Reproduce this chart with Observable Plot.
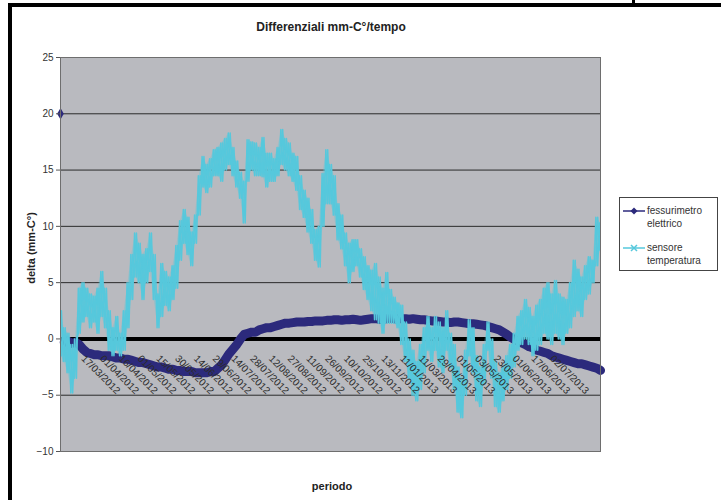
<!DOCTYPE html>
<html>
<head>
<meta charset="utf-8">
<script src="https://cdn.jsdelivr.net/npm/d3@7"></script>
<script src="https://cdn.jsdelivr.net/npm/@observablehq/plot@0.6"></script>
<style>
  body { margin: 0; background: #fff; }
  #wrap { position: relative; width: 721px; height: 500px; overflow: hidden; background: #fff;
          font-family: "Liberation Sans", Arial, sans-serif; color: #222; }
  #chart { position: absolute; left: 0; top: 0; }
  .abs { position: absolute; white-space: nowrap; }
  .bold { font-weight: bold; }
</style>
</head>
<body>
<div id="wrap">
  <div id="chart"></div>
  <div class="abs bold" id="title" style="left:331px;top:27px;transform:translate(-50%,-50%);font-size:12px;"></div>
  <div class="abs bold" id="ylab" style="left:31px;top:248px;transform:translate(-50%,-50%) rotate(-90deg);font-size:11px;"></div>
  <div class="abs bold" id="xlab" style="left:332px;top:486px;transform:translate(-50%,-50%);font-size:11px;"></div>
  <div id="legend" class="abs" style="left:619px;top:197px;width:97px;height:72px;border:1px solid #444;background:#fff;"></div>
  <div class="abs" style="left:8px;top:3px;width:713px;height:4px;background:#000;"></div>
  <div class="abs" style="left:8px;top:3px;width:4px;height:497px;background:#000;"></div>
  <div class="abs" style="left:632px;top:0px;width:3px;height:4px;background:#000;"></div>
</div>
<script>
const titleText = "Differenziali mm-C°/tempo";
const yLabel = "delta (mm-C°)";
const xLabel = "periodo";
const seriesNames = ["fessurimetro elettrico", "sensore temperatura"];
const yTicks = [-10, -5, 0, 5, 10, 15, 20, 25];

const dateLabels = ["17/03/2012","01/04/2012","16/04/2012","01/05/2012","15/05/2012","30/05/2012",
  "14/06/2012","29/06/2012","14/07/2012","28/07/2012","12/08/2012","27/08/2012","11/09/2012",
  "26/09/2012","10/10/2012","25/10/2012","13/11/2012","11/01/2013","11/03/2013","29/04/2013",
  "01/05/2013","03/05/2013","23/05/2013","01/06/2013","17/06/2013","02/07/2013"];

// fessurimetro elettrico (first reading is an isolated outlier)
const fessurimetro = [
  20, -0.3, -0.2, -0.4, -0.3, -0.5, -0.9, -1.2, -1.3, -1.4,
  -1.4, -1.5, -1.5, -1.5, -1.6, -1.7, -1.7, -1.8, -1.8, -1.9,
  -2.0, -2.1, -2.1, -2.2, -2.3, -2.4, -2.5, -2.5, -2.6, -2.7,
  -2.7, -2.8, -2.8, -2.9, -2.9, -2.9, -3.0, -3.0, -3.0, -3.0,
  -2.9, -2.9, -2.6, -2.3, -1.8, -1.3, -0.9, -0.5, 0.0, 0.4,
  0.5, 0.6, 0.6, 0.8, 0.9, 1.0, 1.0, 1.1, 1.2, 1.3,
  1.4, 1.4, 1.45, 1.5, 1.5, 1.5, 1.55, 1.55, 1.6, 1.6,
  1.6, 1.65, 1.65, 1.7, 1.7, 1.65, 1.7, 1.7, 1.75, 1.7,
  1.65, 1.7, 1.75, 1.8, 1.8, 1.75, 1.8, 1.8, 1.85, 1.8,
  1.8, 1.8, 1.8, 1.75, 1.8, 1.75, 1.7, 1.7, 1.65, 1.6,
  1.6, 1.55, 1.5, 1.5, 1.45, 1.5, 1.5, 1.45, 1.4, 1.35,
  1.35, 1.3, 1.25, 1.2, 1.1, 1.0, 0.9, 0.8, 0.6, 0.4,
  0.15, -0.05, -0.2, -0.35, -0.5, -0.7, -0.8, -1.0, -1.1, -1.2,
  -1.3, -1.5, -1.6, -1.7, -1.8, -1.9, -2.0, -2.1, -2.2, -2.2,
  -2.3, -2.4, -2.5, -2.6, -2.8
];

// sensore temperatura: low and high readings per category step
const sensoreLo = [
  -1.5, -2.0, -3.0, -4.8, -3.5, 0.5, 1.5, 2.0, 1.0, 1.5,
  0.5, 2.0, 1.0, -1.0, -1.5, -1.0, -1.5, -1.0, 1.0, 3.5,
  5.5, 5.0, 3.5, 5.0, 6.0, 3.5, 1.0, 2.0, 3.0, 2.5,
  3.5, 4.5, 7.0, 8.5, 7.5, 6.5, 8.5, 11.0, 13.5, 13.0,
  13.5, 14.5, 14.5, 14.0, 15.0, 15.5, 14.5, 13.5, 12.5, 10.3,
  14.0, 15.0, 14.5, 14.5, 14.4, 13.5, 14.0, 14.0, 14.5, 15.5,
  15.0, 14.5, 14.0, 13.2, 11.5, 10.8, 9.5, 8.5, 7.0, 6.4,
  10.0, 12.0, 12.0, 11.0, 8.8, 8.0, 6.5, 5.0, 6.0, 6.5,
  5.5, 4.4, 3.5, 2.5, 1.7, 1.4, 0.5, 1.4, 1.4, 1.4,
  1.0, -0.5, -2.0, -3.5, -5.0, -5.5, -4.5, -3.0, -1.0, -2.0,
  -1.0, -2.5, -3.0, -1.0, -2.5, -4.5, -6.5, -7.0, -5.0, -1.5,
  -3.0, -5.5, -6.0, -4.0, -1.0, -3.5, -6.0, -6.5, -5.5, -4.5,
  -3.5, -2.5, -1.0, -0.5, 0.0, -0.5, -1.5, -1.0, -0.5, 0.5,
  0.0, -0.5, 0.5, 0.0, -0.5, 0.5, 1.0, 2.0, 2.5, 2.0,
  3.5, 4.0, 5.0, 6.5, 7.9
];
const sensoreHi = [
  2.5, 1.0, 0.5, -0.5, 0.0, 4.5, 5.0, 4.5, 4.0, 3.8,
  4.5, 6.0, 4.5, 2.5, 1.0, 2.0, 0.5, 2.5, 5.0, 7.5,
  9.4, 8.5, 7.5, 8.0, 9.4, 7.5, 4.0, 6.7, 6.0, 5.5,
  6.5, 8.3, 10.5, 11.5, 10.8, 9.5, 11.0, 14.5, 16.2, 15.5,
  16.0, 16.8, 17.0, 17.4, 17.8, 18.3, 17.0, 15.8, 14.8, 14.0,
  17.7, 17.5, 17.4, 17.0, 17.9, 16.5, 16.5, 16.0, 17.0, 18.6,
  17.8, 17.4, 16.5, 16.2, 14.5, 13.2, 12.5, 11.5, 9.7, 10.0,
  14.7, 16.8, 15.5, 14.5, 12.0, 11.0, 9.4, 8.5, 8.8, 8.8,
  8.0, 7.3, 6.5, 6.1, 6.7, 5.5, 4.5, 5.9, 4.4, 3.7,
  3.2, 3.0, 1.5, 0.0, -1.0, -2.0, -0.5, 1.0, 2.0, 1.0,
  2.0, 1.5, 1.0, 2.5, 0.5, -0.5, -2.5, -3.5, -1.0, 1.7,
  1.0, -1.5, -2.5, -0.5, 1.5, 0.0, -2.0, -3.0, -2.5, -1.5,
  -0.5, 0.5, 2.0, 2.5, 3.5, 2.8, 2.0, 3.0, 3.5, 4.5,
  5.0, 4.0, 5.2, 4.0, 3.7, 3.5, 5.0, 7.0, 6.2, 5.5,
  6.5, 7.3, 7.0, 10.8, 10.3
];

const navy = "#2c2a7c";
const cyan = "#56c8dc";
const plotBg = "#b9babf";

const N = fessurimetro.length;
const idx = d3.range(N);
const labelStart = 6, labelStep = 5;
const labelData = dateLabels.map((t, j) => ({t, i: labelStart + labelStep * j}));

// two crossing traces through each step's high and low reading
const zig = idx.flatMap(i => [{x: i - 0.25, y: sensoreHi[i]}, {x: i + 0.25, y: sensoreLo[i]}]);
const zag = idx.flatMap(i => [{x: i - 0.25, y: sensoreLo[i]}, {x: i + 0.25, y: sensoreHi[i]}]);

const chart = Plot.plot({
  width: 721,
  height: 500,
  marginLeft: 60,
  marginRight: 121,
  marginTop: 57,
  marginBottom: 49,
  style: {fontFamily: '"Liberation Sans", Arial, sans-serif', fontSize: "10px", color: "#333", background: "transparent"},
  x: {domain: [0, N - 1], axis: null},
  y: {domain: [-10, 25], axis: null},
  marks: [
    Plot.frame({fill: plotBg}),
    Plot.ruleY(yTicks.filter(v => v !== 0 && v !== -10 && v !== 25), {stroke: "#2b2b2b", strokeWidth: 1}),
    Plot.ruleY([0], {stroke: "#000", strokeWidth: 4}),
    Plot.areaY(idx, {x: i => i, y1: i => sensoreLo[i], y2: i => sensoreHi[i], fill: cyan, fillOpacity: 0.35, clip: true}),
    Plot.line(idx.slice(1), {x: i => i, y: i => fessurimetro[i], stroke: navy, strokeWidth: 9,
      strokeLinejoin: "round", strokeLinecap: "round"}),
    Plot.dot([0], {x: i => i, y: i => fessurimetro[i], symbol: "diamond", r: 3.5, fill: navy}),
    Plot.line(zig, {x: "x", y: "y", stroke: cyan, strokeWidth: 1.5, clip: true}),
    Plot.line(zag, {x: "x", y: "y", stroke: cyan, strokeWidth: 1.5, clip: true}),
    Plot.frame({stroke: "#6e6e6e"}),
    Plot.axisY({ticks: yTicks, tickSize: 4, tickPadding: 3, fontSize: 10, label: null, stroke: "#555"}),
    Plot.text(labelData, {x: "i", y: () => 0, dy: 18, text: "t", rotate: 45, textAnchor: "start",
      fontSize: 10, fill: "#2b2b2b"})
  ]
});
document.getElementById("chart").appendChild(chart);

document.getElementById("title").textContent = titleText;
document.getElementById("ylab").textContent = yLabel;
document.getElementById("xlab").textContent = xLabel;

const legend = document.getElementById("legend");
const items = [
  {name: seriesNames[0], color: navy, top: 6, marker: "diamond"},
  {name: seriesNames[1], color: cyan, top: 43, marker: "x"}
];
for (const it of items) {
  const icon = document.createElementNS("http://www.w3.org/2000/svg", "svg");
  icon.setAttribute("width", 24); icon.setAttribute("height", 10);
  icon.style.position = "absolute"; icon.style.left = "2px"; icon.style.top = (it.top + 2) + "px";
  let inner = `<line x1="1" y1="5" x2="23" y2="5" stroke="${it.color}" stroke-width="1.5"/>`;
  if (it.marker === "diamond") inner += `<path d="M12,1.5L15.5,5L12,8.5L8.5,5Z" fill="${it.color}"/>`;
  else inner += `<path d="M9,2L15,8M15,2L9,8" stroke="${it.color}" stroke-width="1.5"/>`;
  icon.innerHTML = inner;
  legend.appendChild(icon);
  const t = document.createElement("div");
  t.textContent = it.name;
  t.style.cssText = `position:absolute;left:27px;top:${it.top}px;width:68px;white-space:normal;font-size:10px;line-height:13px;color:#333;`;
  legend.appendChild(t);
}
</script>
</body>
</html>
